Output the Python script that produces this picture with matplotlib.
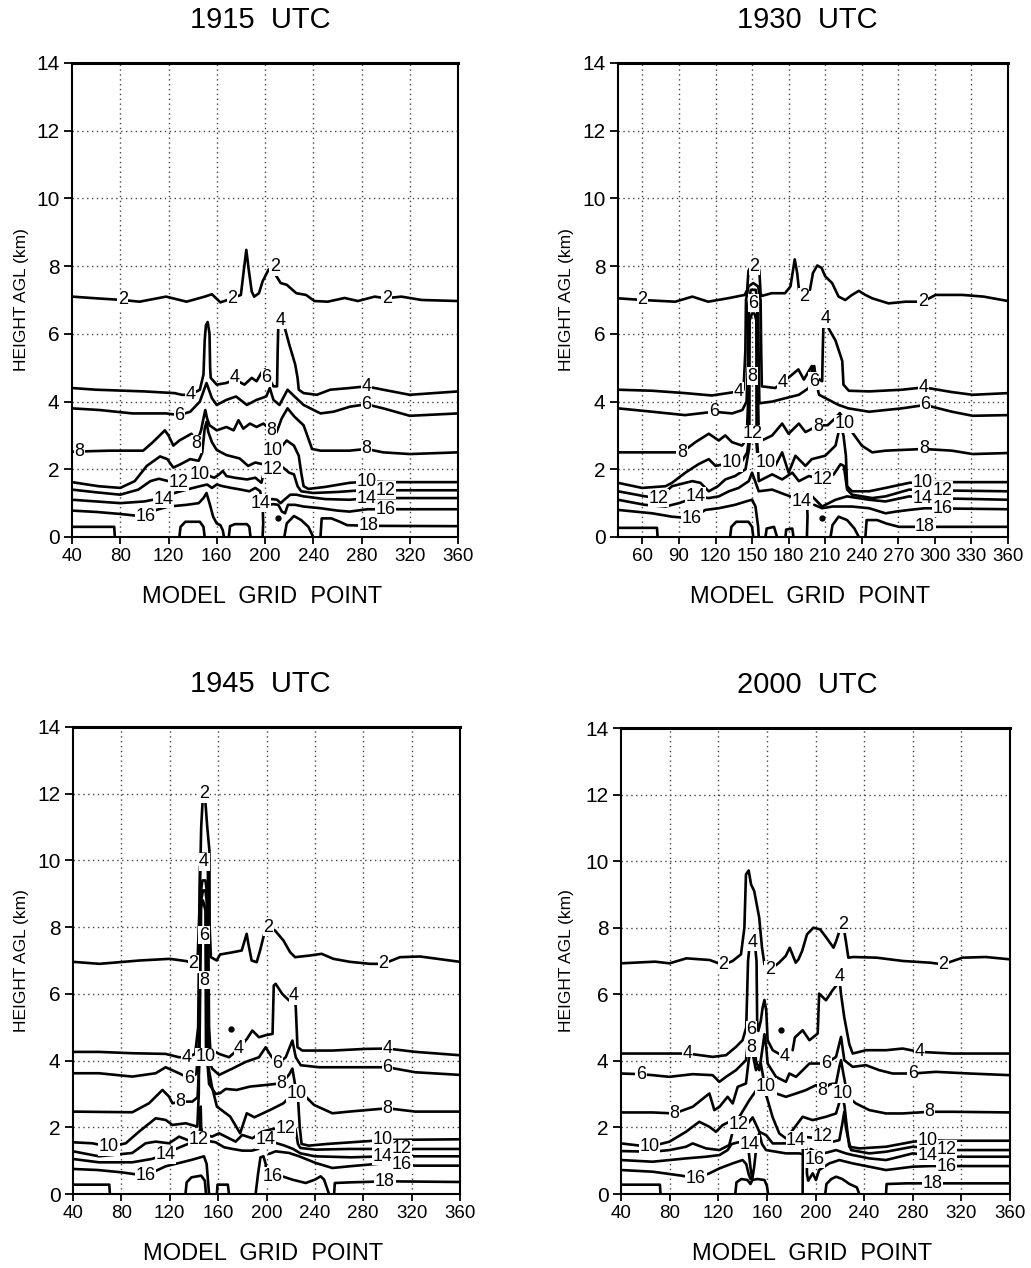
import matplotlib
matplotlib.use("Agg")
import matplotlib.pyplot as plt

plt.rcParams['font.family'] = ['Liberation Sans', 'DejaVu Sans']

# ---------------- 1915 UTC ----------------
c1915_2 = [(40,7.1),(60,7.05),(82,7.0),(96,6.95),(118,7.1),(135,6.95),(150,7.1),(156,7.17),(163,6.93),(173,7.05),
           (180,7.15),(182.5,7.9),(184.5,8.48),(186.5,7.9),(189,7.25),(191,7.1),(195,7.2),(198,7.55),(203,7.9),
           (206,7.92),(209,7.73),(213,7.5),(218,7.45),(226,7.2),(234,7.15),(241,6.97),(252,6.95),(266,7.06),
           (277,6.97),(291,7.1),(300,7.05),(313,7.1),(330,7.0),(360,6.97)]
c1915_4 = [(40,4.4),(60,4.35),(100,4.3),(125,4.25),(131,4.2),(138,4.2),(146,4.35),(149,4.8),(150,5.8),(151,6.25),
           (152.5,6.35),(154,6.0),(154.5,5.0),(155,4.7),(160,4.5),(168,4.55),(175,4.65),(183,4.5),(189,4.7),
           (193,4.6),(197,4.85),(200,4.95),(203,4.7),(207,4.45),(210,4.45),(210.5,5.5),(211,6.2),(213,6.35),
           (216.6,6.15),(220,5.7),(225,5.1),(227,4.7),(228,4.35),(232,4.25),(243,4.2),(254,4.35),(270,4.4),
           (284,4.45),(298,4.35),(320,4.2),(360,4.3)]
c1915_6 = [(40,3.8),(63,3.75),(90,3.65),(118,3.65),(129,3.6),(138,3.7),(146,4.0),(149,4.3),(151.5,4.55),(154,4.3),
           (156,4.1),(160,3.9),(168,4.05),(176,4.15),(185,3.9),(193,4.05),(201,4.15),(204,4.4),(207,4.05),(212,3.9),
           (218.7,4.35),(224.5,4.15),(232,3.9),(246,3.65),(256.7,3.7),(270.6,3.85),(284,3.92),(298,3.8),
           (320,3.58),(360,3.65)]
c1915_8 = [(40,2.52),(71,2.55),(99,2.55),(107,2.8),(117,3.15),(120,3.0),(124,2.7),(129,2.85),(139,3.05),(143,2.75),
           (147,3.15),(149,3.5),(150.5,3.75),(152,3.5),(154,3.3),(160,3.15),(168,3.25),(174,3.15),(178,3.45),
           (182,3.2),(187.5,3.35),(193,3.25),(198.6,3.35),(205.5,3.15),(209.7,3.1),(213.8,3.5),(218.7,3.8),
           (224.5,3.55),(232,3.3),(236,2.9),(239,2.6),(246,2.55),(270,2.55),(284,2.6),(298,2.5),(320,2.45),(360,2.5)]
c1915_10 = [(40,1.62),(62,1.5),(80,1.45),(92,1.65),(102,2.1),(113,2.38),(119,2.3),(124,2.05),(130,2.15),(138,2.3),
            (145,2.25),(148,2.5),(150,3.2),(151.5,3.4),(153,3.1),(156,2.8),(160,2.57),(168,2.42),(179,2.32),
            (186,2.1),(192,2.2),(198,2.15),(205,2.5),(212,2.6),(218,2.85),(224,2.7),(228,2.4),(230,1.9),(232,1.5),
            (236,1.42),(250,1.48),(270,1.6),(287,1.64),(300,1.62),(360,1.62)]
c1915_12 = [(40,1.4),(60,1.32),(80,1.25),(95,1.4),(105,1.65),(112,1.72),(120,1.65),(128,1.62),(136,1.7),(142,1.65),
            (148,1.9),(151,2.0),(154,1.8),(158,1.75),(162,1.85),(165,1.95),(168,1.8),(175,1.75),(185,1.7),(192,1.75),
            (197,1.6),(199,1.9),(205,1.95),(210,2.1),(215,2.05),(220,1.9),(224,1.85),(227,1.5),(230,1.35),(240,1.3),
            (260,1.33),(280,1.38),(300,1.38),(360,1.38)]
c1915_14a = [(40,1.1),(60,1.05),(80,1.0),(100,1.05),(110,1.12),(116,1.12),(125,1.3),(135,1.4),(146,1.5),(152,1.55),
             (156,1.45),(160,1.55),(165,1.5),(172,1.45),(180,1.4),(187,1.35),(192,1.45),(196,1.35),(198,1.0),
             (198.5,0.4),(198,0.0)]
c1915_14b = [(202,1.1),(206,1.12),(210,1.1),(213,1.0),(216,1.1),(221,1.25),(226,1.25),(232,1.2),(250,1.12),
             (270,1.1),(287,1.15),(360,1.15)]
c1915_16a = [(40,0.78),(60,0.74),(80,0.68),(101,0.6),(110,0.8),(120,0.9),(135,0.95),(145,1.0),(149,1.15),
             (151.5,1.3),(154,1.0),(157,0.6),(160,0.4),(163,0.35),(165,0.2),(166,0.0)]
c1915_16b = [(203,0.95),(207,0.97),(211,0.95),(214,0.75),(216.6,0.7),(219,0.95),(225,0.95),(232,0.9),(246,0.85),
             (260,0.78),(270,0.75),(285,0.82),(360,0.82)]
c1915_18a = [(40,0.3),(75,0.3),(75.5,0.0)]
c1915_18b = [(129,0.0),(130,0.3),(134,0.45),(146,0.45),(149,0.3),(150,0.0)]
c1915_18c = [(170,0.0),(171,0.32),(175,0.38),(185,0.38),(187,0.3),(188,0.0)]
c1915_18d = [(216,0.0),(218,0.4),(224,0.62),(230,0.5),(236,0.3),(240,0.0)]
c1915_18e = [(246,0.0),(247,0.55),(255,0.55),(262,0.45),(268,0.35),(285,0.33),(360,0.32)]
rot1915 = [(82,7.0,'2'),(173,7.05,'2'),(208,7.98,'2'),(301,7.05,'2'),
           (138,4.2,'4'),(175,4.7,'4'),(213,6.4,'4'),(284,4.45,'4'),
           (201,4.7,'6'),(129,3.6,'6'),(284,3.92,'6'),
           (46,2.52,'8'),(143,2.75,'8'),(205.5,3.15,'8'),(284,2.6,'8'),
           (146,1.85,'10'),(206,2.55,'10'),(284,1.64,'10'),
           (128,1.62,'12'),(206,2.0,'12'),(300,1.38,'12'),
           (116,1.12,'14'),(196,1.0,'14'),(284,1.15,'14'),
           (101,0.6,'16'),(300,0.82,'16'),(286,0.33,'18')]
pts1915 = [(210.7,0.55)]

# ---------------- 1930 UTC ----------------
c1930_2a = [(40,7.05),(60,7.0),(87,6.95),(101,7.1),(114,6.95),(130,7.05),(144,7.15),(146,7.3),(147,7.85),(149,8.0),
            (155,8.0),(156,7.85),(157,7.2),(158,7.12),(166,7.2),(177,7.2),(181.5,7.4),(185,8.2),(187,7.8),(188.5,7.3)]
c1930_2b = [(197.5,7.3),(200,7.8),(203.5,8.02),(207,7.95),(210,7.7),(215.7,7.5),(219,7.25),(221,7.1),(226.5,7.0),
            (232,7.15),(237.6,7.27),(243,7.15),(248.6,7.05),(262,6.9),(276,6.95),(290,6.95),(300.6,7.15),
            (322.5,7.15),(340,7.1),(360,6.97)]
c1930_4 = [(40,4.35),(68,4.32),(95,4.25),(117,4.18),(130,4.25),(139,4.3),(143,4.35),(144.5,5.5),(145,7.0),(147,7.4),
           (151,7.5),(155,7.4),(157,7.0),(157.5,5.5),(158,4.45),(169,4.4),(174.7,4.55),(183,4.8),(188,4.95),
           (192.5,4.65),(199,5.05),(203.4,4.7),(207.5,4.6),(208,5.5),(208.5,6.2),(210,6.45),(213,6.15),
           (218.5,5.8),(224,5.2),(225,4.5),(229.4,4.32),(246,4.3),(273,4.35),(291,4.42),(314,4.28),(331,4.2),
           (360,4.25)]
c1930_6 = [(40,3.8),(68,3.7),(95,3.6),(118.6,3.7),(133.6,3.65),(142,3.75),(145.5,4.0),(146.5,5.0),(147,6.9),
           (149,7.3),(153,7.3),(155,6.9),(155.5,5.0),(156,3.95),(166.5,4.0),(177.4,4.1),(188.4,4.2),(196.6,4.4),
           (199.5,5.0),(201,5.05),(203,4.5),(205,4.2),(210.3,4.1),(221,3.9),(229,3.8),(246,3.7),(259.5,3.75),
           (273,3.8),(292,3.9),(314,3.7),(331,3.58),(360,3.6)]
c1930_8 = [(40,2.5),(81.6,2.5),(92.5,2.5),(103.5,2.8),(114.5,3.05),(122.7,2.85),(128,3.0),(133.6,2.8),(141.8,2.7),
           (145.5,2.9),(146.8,4.0),(147.5,6.7),(149.5,7.0),(152.5,7.0),(154.3,6.7),(155,4.0),(155.5,3.0),
           (158,2.85),(166.5,3.0),(174.7,3.35),(180,3.05),(188.4,3.35),(193.8,3.1),(204.8,3.3),(212,3.3),
           (218,3.5),(222,3.66),(226,3.45),(232,3.1),(240,2.7),(248.6,2.5),(259.5,2.55),(291,2.6),(314,2.55),
           (331,2.45),(360,2.48)]
c1930_10 = [(40,1.6),(59.7,1.45),(79,1.5),(84.3,1.6),(95.3,1.9),(106,2.15),(114.5,2.3),(120,2.1),(133.6,2.2),
            (142,2.25),(146,2.5),(147.8,3.0),(148,6.4),(150,6.6),(152,6.6),(153.5,6.4),(153.7,3.0),(155,2.4),
            (161,2.2),(169,2.1),(174.7,2.5),(180,1.9),(185.6,2.4),(193.8,2.1),(199,2.3),(210,2.4),(218.5,2.7),
            (221,3.1),(222.6,3.3),(225,3.0),(227,2.4),(228,1.5),(232,1.35),(246,1.35),(259.5,1.45),(279,1.6),
            (294,1.62),(303,1.62),(360,1.62)]
c1930_12 = [(40,1.35),(62.4,1.2),(73.4,1.15),(84.3,1.5),(101,1.65),(107.6,1.6),(114.5,1.35),(122,1.5),(128,1.7),
            (136,1.8),(144.6,2.0),(147.5,2.6),(148.5,3.05),(151,3.2),(153,3.05),(154,2.6),(155.5,1.65),
            (166.5,1.85),(174.7,1.7),(183,1.9),(188.4,1.65),(196.6,1.8),(207.5,1.7),(217,1.85),(222.6,2.15),
            (225.3,2.1),(228,1.4),(232,1.25),(248.6,1.15),(259.5,1.2),(279,1.4),(294,1.38),(360,1.35)]
c1930_14a = [(40,1.1),(62,0.95),(79,0.9),(90,1.0),(98,1.1),(103.5,1.2),(114.5,1.15),(122.7,1.2),(131,1.35),
             (139,1.45),(147.3,1.65),(150,1.9),(152,1.7),(155.5,1.35),(166.5,1.4),(177.4,1.25),(185.6,1.15),
             (192,1.3),(195,1.2),(195.5,0.6),(195,0.0)]
c1930_14b = [(198,1.2),(199.3,1.2),(207.5,0.9),(218.5,1.1),(228,1.2),(246,1.1),(259.5,1.05),(279,1.2),(294,1.15),
             (360,1.1)]
c1930_16a = [(40,0.8),(68,0.7),(84.3,0.6),(100.8,0.55),(111.7,0.8),(122.7,0.85),(136,0.95),(145,1.05),(150,1.1),
             (152.8,0.9),(155,0.3),(155.5,0.0)]
c1930_16b = [(201,0.95),(207.5,0.85),(216,0.9),(232,0.9),(246,0.85),(259.5,0.7),(268,0.75),(279,0.8),(292,0.85),
             (360,0.82)]
c1930_18a = [(40,0.27),(72,0.27),(72.5,0.0)]
c1930_18b = [(132,0.0),(133,0.3),(137,0.45),(147,0.45),(150,0.3),(151,0.0)]
c1930_18c = [(161,0.0),(162,0.25),(168,0.3),(170.5,0.0)]
c1930_18d = [(177.4,0.0),(178,0.22),(183,0.25),(184,0.0)]
c1930_18e = [(214.4,0.0),(216,0.35),(221,0.6),(228,0.5),(234,0.25),(237.6,0.0)]
c1930_18f = [(243,0.0),(244,0.5),(252.7,0.5),(260,0.4),(270.5,0.3),(291,0.3),(360,0.3)]
rot1930 = [(60,7.0,'2'),(152,8.0,'2'),(192.5,7.1,'2'),(290,6.95,'2'),
           (139,4.3,'4'),(174.7,4.55,'4'),(210,6.45,'4'),(291,4.42,'4'),
           (151,6.9,'6'),(118.6,3.7,'6'),(200.7,4.6,'6'),(292,3.9,'6'),
           (92.5,2.5,'8'),(150.5,4.75,'8'),(204,3.25,'8'),(291,2.6,'8'),
           (133.6,2.2,'10'),(161,2.2,'10'),(226,3.35,'10'),(290,1.62,'10'),
           (73.4,1.15,'12'),(150.5,3.05,'12'),(207.5,1.7,'12'),(306,1.38,'12'),
           (103.5,1.2,'14'),(191,1.05,'14'),(290,1.15,'14'),
           (100.8,0.55,'16'),(306,0.85,'16'),(292,0.3,'18')]
pts1930 = [(207.5,0.55)]

# ---------------- 1945 UTC ----------------
c1945_2 = [(40,6.96),(62,6.9),(95,7.0),(120,7.05),(134,6.98),(139.5,6.9),(143,7.0),(144.5,8.5),(146,11.0),
           (147.5,12.0),(149,12.0),(151,11.0),(152.8,10.3),(153,8.0),(154,7.1),(158.8,7.0),(161.6,7.18),
           (172.6,7.25),(179.5,7.3),(183.6,7.8),(185,7.5),(187.7,7.0),(191.9,6.95),(194.7,7.3),(198.8,7.9),
           (201.6,8.0),(207,7.9),(214,7.6),(219.5,7.25),(223.6,7.1),(236,7.15),(245.6,7.2),(255.3,7.05),
           (269,6.96),(285.6,6.9),(296.6,6.9),(310.4,7.1),(327,7.12),(360,6.96)]
c1945_4 = [(40,4.26),(61.5,4.26),(89,4.22),(116.6,4.2),(127.7,4.1),(134.6,4.1),(141,4.2),(143.5,5.0),(145,9.8),
           (146.5,10.2),(150,10.2),(151.5,9.8),(152.5,5.0),(153.5,4.35),(160.8,4.2),(169,4.1),(177.3,4.36),
           (184,4.66),(188.3,4.9),(193.8,4.7),(199.3,4.76),(205,4.8),(206,6.25),(207.6,6.3),(213,6.0),
           (218.7,5.8),(222.8,5.95),(224.2,5.6),(225.6,4.4),(229.7,4.3),(254.5,4.3),(282,4.35),(300,4.36),
           (323.4,4.26),(360,4.16)]
c1945_6 = [(40,3.62),(61.5,3.62),(89,3.52),(108.4,3.62),(116.6,3.8),(127.7,3.62),(136,3.47),(142,3.6),(144,4.5),
           (145.5,9.0),(147,9.4),(149.5,9.4),(151,9.0),(152,4.5),(153,3.96),(155,3.76),(160.8,3.57),(171.8,3.76),
           (182.8,3.96),(193.8,4.1),(199.3,4.4),(203.5,4.15),(209,3.9),(215.9,4.1),(221.4,4.6),(224.2,4.1),
           (228.3,3.86),(243.5,3.8),(268.3,3.8),(300,3.8),(323,3.65),(360,3.57)]
c1945_8 = [(40,2.47),(89,2.45),(102.9,2.72),(114,3.12),(119.4,2.92),(122.2,2.72),(129,2.77),(138.7,2.77),(143,2.9),
           (144.5,4.0),(146,8.8),(147.5,9.1),(149.5,9.1),(150.5,8.8),(151,4.0),(152.5,3.3),(158,3.0),(161.5,3.02),
           (166.3,3.15),(175.3,3.12),(186.3,3.22),(200,3.27),(212.5,3.32),(218.7,3.58),(221.4,3.76),(224,3.2),
           (232.4,2.92),(239.3,2.67),(254.5,2.42),(268.3,2.47),(300,2.57),(323,2.47),(360,2.47)]
c1945_10 = [(40,1.55),(56,1.52),(69.8,1.42),(83.6,1.52),(94.6,1.87),(108.4,2.27),(116.6,2.22),(122.2,2.07),
            (133.2,2.12),(142.8,2.02),(144,3.0),(145,8.5),(147.5,8.8),(149.5,8.5),(150,4.0),(152,3.8),(155,3.2),
            (159,2.62),(170,2.32),(178.2,1.82),(183.7,2.42),(190,2.3),(203,2.52),(214,2.72),(222.3,3.02),
            (226,2.9),(227.5,2.0),(229,1.5),(235,1.45),(250,1.5),(270,1.55),(298,1.62),(360,1.64)]
c1945_12 = [(40,1.28),(61.5,1.13),(89,1.23),(100,1.52),(108.4,1.57),(119.4,1.52),(127.7,1.72),(136,1.6),
            (144.2,1.62),(145.2,2.0),(145.6,2.62),(146,2.0),(147,1.8),(155,1.72),(160.8,1.82),(169,1.67),
            (174.5,1.57),(180,1.77),(188.3,1.67),(196.6,1.87),(205,1.95),(215.9,1.97),(221.4,2.02),(224,1.95),
            (226,1.5),(228,1.38),(240.7,1.33),(268,1.35),(298,1.35),(360,1.35)]
c1945_14 = [(40,1.05),(61.5,0.95),(89,0.95),(105,1.05),(116.6,1.18),(125,1.35),(135,1.5),(142,1.55),(150,1.6),
            (158,1.55),(165,1.4),(172,1.35),(180,1.3),(188,1.3),(193,1.35),(199.3,1.62),(206,1.55),(215,1.45),
            (222,1.35),(228,1.22),(240,1.13),(270,1.1),(298,1.13),(360,1.13)]
c1945_16a = [(40,0.75),(60,0.72),(80,0.65),(100,0.55),(116.6,0.83),(130,0.95),(138.7,1.03),(148.3,1.13),
             (150.5,0.9),(152.5,0.0)]
c1945_16b = [(191,0.0),(193,0.6),(195,1.1),(197.5,1.13),(199.3,0.9),(199.5,0.6),(201,0.5),(205,0.53),(210,0.55),
             (213,0.53),(221.4,0.43),(232.4,0.33),(240,0.43),(244.8,0.53),(247.6,0.43),(251.7,0.0)]
c1945_16c = [(202,1.2),(207.6,1.28),(218.7,1.23),(227,1.13),(240.7,0.93),(254.5,0.78),(268.3,0.83),(300,0.93),
             (323,0.85),(360,0.85)]
c1945_18a = [(40,0.28),(70,0.28),(70.5,0.0)]
c1945_18b = [(133,0.0),(134,0.35),(138,0.5),(146,0.55),(149,0.4),(150,0.0)]
c1945_18c = [(159,0.0),(159.5,0.28),(168,0.28),(169,0.0)]
c1945_18d = [(255.9,0.0),(256.5,0.33),(270,0.35),(300,0.38),(360,0.36)]
rot1945 = [(139.5,6.9,'2'),(148.3,12.0,'2'),(201.6,8.0,'2'),(296.6,6.9,'2'),
           (134,4.1,'4'),(148.4,9.96,'4'),(177.3,4.36,'4'),(222.8,5.95,'4'),(300,4.36,'4'),
           (136,3.47,'6'),(148.4,7.76,'6'),(209,3.9,'6'),(300,3.8,'6'),
           (129,2.77,'8'),(148.4,6.41,'8'),(212.5,3.32,'8'),(300,2.57,'8'),
           (69.8,1.42,'10'),(149.5,4.12,'10'),(225,3.02,'10'),(296,1.62,'10'),
           (144.2,1.62,'12'),(215.9,1.97,'12'),(312,1.35,'12'),
           (116.6,1.18,'14'),(199.3,1.62,'14'),(296,1.13,'14'),
           (100,0.55,'16'),(205,0.53,'16'),(312,0.88,'16'),(298,0.38,'18')]
pts1945 = [(171,4.96)]

# ---------------- 2000 UTC ----------------
c2000_2 = [(40,6.93),(68,6.98),(80,6.93),(93.8,7.08),(113,7.03),(124,6.88),(131.8,7.0),(138.7,7.2),(141.5,8.0),
           (142.8,9.6),(145,9.72),(147,9.3),(149.6,9.1),(153.7,8.3),(156,7.4),(158,6.9),(162.6,6.73),(170,6.95),
           (175.5,7.15),(178.8,7.4),(181,7.2),(183.7,6.95),(186,7.05),(189,7.3),(193,7.8),(198.3,8.0),
           (203.8,7.95),(209,7.7),(214.8,7.4),(217,7.6),(220.2,7.95),(223,8.05),(225,7.6),(227,7.1),(231,7.12),
           (250.3,7.1),(272,7.0),(294,6.95),(305,6.9),(321,7.1),(340,7.12),(360,7.05)]
c2000_4a = [(40,4.22),(66,4.22),(94.8,4.22),(115.4,4.12),(126.4,4.17),(134.6,4.42),(140,4.62),(143,5.0),
            (144.5,7.0),(146,7.55),(150,7.55),(151.5,7.0),(152,5.2),(153,4.9),(155,5.2),(156.5,5.6),(158,5.83),
            (159.5,5.5),(160.6,4.62),(164.8,4.32),(174.4,4.12),(178,4.2)]
c2000_4b = [(181.2,4.32),(183,4.7),(189.4,4.92),(195,4.62),(201.8,4.82),(203,6.02),(208.6,5.82),(214,6.12),
            (218,6.3),(219.6,6.52),(221,6.0),(223.7,5.3),(227.8,4.5),(230.6,4.22),(241.5,4.32),(258,4.32),
            (271.7,4.37),(285.4,4.27),(312.8,4.22),(360,4.22)]
c2000_6 = [(40,3.62),(56.5,3.6),(66,3.57),(79.8,3.52),(99,3.6),(115.4,3.57),(120.9,3.37),(126.4,3.52),(134.6,3.72),
           (142.8,4.02),(144.5,4.6),(146,5.0),(148.5,5.0),(149.5,4.6),(151,4.0),(153.8,3.72),(156.5,4.4),(158,4.8),
           (159.5,4.4),(160.6,3.92),(167.5,3.52),(175.7,3.37),(178.5,3.62),(184,3.52),(195,3.92),(208.6,3.92),
           (216.9,4.12),(219.5,4.5),(221,4.72),(223.7,4.02),(230.6,3.82),(241.5,3.87),(252.5,3.72),(263.5,3.62),
           (280,3.62),(299,3.67),(326.5,3.62),(360,3.57)]
c2000_8 = [(40,2.45),(66,2.45),(83.9,2.42),(99,2.62),(112.7,3.02),(116.8,2.52),(121,2.62),(127.7,2.92),(131.9,2.72),
           (136,3.22),(142.8,3.32),(145,4.0),(147,4.45),(149.5,4.0),(151,3.72),(155,3.92),(157.9,3.32),(160,3.1),
           (167.5,3.02),(175.7,2.92),(184,3.02),(192,3.12),(200.4,3.27),(205.9,3.12),(212,3.3),(216.9,3.32),
           (219.5,3.8),(221,4.02),(223,3.6),(226.5,2.92),(233.3,2.72),(244.3,2.52),(258,2.42),(271.7,2.42),
           (293.6,2.47),(312.8,2.47),(360,2.45)]
c2000_10 = [(40,1.52),(63.3,1.42),(79.8,1.57),(93.5,1.87),(104.4,2.17),(112.7,2.02),(118.1,1.87),(123.6,2.07),
            (131.9,2.22),(137.3,2.32),(142,2.6),(145.6,2.82),(151,3.1),(156.5,3.2),(160,2.9),(164.8,2.3),
            (170.2,1.82),(175.7,1.67),(181.2,1.92),(189.4,2.32),(197.7,2.22),(208.6,2.32),(216.9,2.42),(220,2.8),
            (222.3,3.0),(224,2.6),(225.5,2.1),(227.8,1.42),(236,1.37),(258,1.42),(280,1.57),(293.6,1.62),
            (307,1.6),(360,1.6)]
c2000_12 = [(40,1.29),(66,1.27),(80,1.32),(93.5,1.42),(99,1.52),(104,1.45),(110,1.37),(121,1.32),(129,1.47),
            (131.9,1.87),(140,1.97),(144,2.1),(148.3,2.3),(153.8,1.87),(159.3,1.77),(164.8,1.52),(175.7,1.52),
            (184,1.77),(190,1.72),(203,1.67),(214,1.57),(219.6,1.62),(222,2.1),(223.7,2.47),(225,2.0),
            (226.5,1.72),(229.2,1.32),(244.3,1.22),(258,1.27),(280,1.42),(293.6,1.38),(307.3,1.32),(360,1.32)]
c2000_14a = [(40,1.02),(66,0.97),(80,1.02),(93.5,1.07),(110,1.12),(121,1.17),(127.7,1.32),(131,1.5),(136,1.55),
             (142.8,1.57),(145,1.3),(146.5,0.8),(148,0.45),(149.5,0.8),(151,1.3),(152.5,1.7),(153.8,1.82),
             (156,1.5),(159.3,1.32),(167.5,1.27),(175.7,1.22),(186.7,1.22),(189,1.2)]
c2000_14b = [(196,1.35),(203,1.2),(210,1.25),(216.9,1.32),(225,1.22),(230.6,1.17),(244.3,1.07),(258,1.02),
             (280,1.22),(293.6,1.17),(307.3,1.12),(360,1.12)]
c2000_16a = [(40,0.72),(66,0.67),(90,0.55),(101.7,0.47),(112.7,0.62),(121,0.77),(131.9,0.92),(140,1.02),
             (143,0.9),(145,0.6),(146.5,0.45)]
c2000_16b = [(189.4,0.0),(189.6,1.4),(191,1.6),(192.7,1.3),(193,0.6),(194,0.4),(197.7,0.62),(200.4,0.42),
             (203,0.72),(211.4,0.92),(219.6,1.02),(230.6,0.92),(244.3,0.82),(258,0.72),(280,0.82),(295,0.84),
             (360,0.84)]
c2000_18a = [(40,0.28),(72,0.28),(72.5,0.0)]
c2000_18b = [(134,0.0),(135,0.35),(139,0.45),(144,0.42),(146.5,0.3),(148,0.42),(152,0.45),(158,0.42),(160,0.25),
             (161,0.0)]
c2000_18c = [(208,0.0),(209,0.3),(213,0.45),(217,0.52),(222,0.45),(228,0.3),(234,0.2),(236,0.0)]
c2000_18d = [(258,0.0),(258.5,0.3),(275,0.32),(296,0.32),(360,0.32)]
rot2000 = [(124,6.88,'2'),(162.6,6.73,'2'),(223,8.1,'2'),(305,6.9,'2'),
           (94.8,4.22,'4'),(148,7.57,'4'),(174.4,4.12,'4'),(219.6,6.52,'4'),(285.4,4.27,'4'),
           (56.5,3.6,'6'),(147.4,4.93,'6'),(208.6,3.92,'6'),(280,3.62,'6'),
           (83.9,2.42,'8'),(147,4.4,'8'),(205.9,3.12,'8'),(293.6,2.47,'8'),
           (63.3,1.42,'10'),(159.3,3.22,'10'),(222.3,3.02,'10'),(292,1.62,'10'),
           (137,2.08,'12'),(206,1.72,'12'),(308,1.34,'12'),
           (146,1.5,'14'),(184,1.62,'14'),(292,1.15,'14'),
           (101.7,0.47,'16'),(199,1.05,'16'),(308,0.84,'16'),(296,0.32,'18')]
pts2000 = [(171.6,4.92)]

linhas1915 = [c1915_2, c1915_4, c1915_6, c1915_8, c1915_10, c1915_12, c1915_14a, c1915_14b, c1915_16a,
              c1915_16b, c1915_18a, c1915_18b, c1915_18c, c1915_18d, c1915_18e]
linhas1930 = [c1930_2a, c1930_2b, c1930_4, c1930_6, c1930_8, c1930_10, c1930_12, c1930_14a, c1930_14b, c1930_16a,
              c1930_16b, c1930_18a, c1930_18b, c1930_18c, c1930_18d, c1930_18e, c1930_18f]
linhas1945 = [c1945_2, c1945_4, c1945_6, c1945_8, c1945_10, c1945_12, c1945_14, c1945_16a, c1945_16b, c1945_16c,
              c1945_18a, c1945_18b, c1945_18c, c1945_18d]
linhas2000 = [c2000_2, c2000_4a, c2000_4b, c2000_6, c2000_8, c2000_10, c2000_12, c2000_14a, c2000_14b, c2000_16a,
              c2000_16b, c2000_18a, c2000_18b, c2000_18c, c2000_18d]

xt_40 = [40, 80, 120, 160, 200, 240, 280, 320, 360]
xt_30 = [60, 90, 120, 150, 180, 210, 240, 270, 300, 330, 360]
yt = [0, 2, 4, 6, 8, 10, 12, 14]

W, H = 1031, 1268
fig = plt.figure(figsize=(W / 100, H / 100), dpi=100)


def painel(box, titulo, tpos, xticks, linhas, rotulos, pontos, ylab_x):
    x0, y0, x1, y1 = box   # caixa do eixo em pixels
    ax = fig.add_axes([x0 / W, 1 - y1 / H, (x1 - x0) / W, (y1 - y0) / H])
    ax.set_xlim(40, 360)
    ax.set_ylim(0, 14)
    for v in xticks:
        if 40 < v < 360:
            ax.axvline(v, color='#444444', lw=1.0, ls=(0, (1, 2.5)), zorder=1)
    for z in yt[1:-1]:
        ax.axhline(z, color='#444444', lw=1.0, ls=(0, (1, 2.5)), zorder=1)
    for pts in linhas:
        ax.plot([p[0] for p in pts], [p[1] for p in pts], color='black', lw=1.9,
                solid_joinstyle='round', solid_capstyle='round', zorder=3)
    for (x, z, t) in rotulos:
        ax.text(x, z, t, ha='center', va='center', fontsize=13, zorder=5,
                bbox=dict(boxstyle='square,pad=0.03', fc='white', ec='none'))
    for (x, z) in pontos:
        ax.plot([x], [z], 'o', ms=3.5, mfc='black', mec='black', zorder=4)
    ax.set_xticks(xticks)
    ax.set_yticks(yt)
    ax.tick_params(axis='y', direction='out', length=6, width=1.3, labelsize=15, pad=3)
    ax.tick_params(axis='x', direction='out', length=5, width=1.3, labelsize=13.5, pad=3)
    for s in ax.spines.values():
        s.set_linewidth(1.5)
    ax.spines['top'].set_linewidth(2.2)
    fig.text(tpos / W, 1 - (y0 - 43) / H, titulo, ha='center', va='center', fontsize=21)
    fig.text((x0 + x1) / 2 / W - 0.003, 1 - (y1 + 60) / H, 'MODEL  GRID  POINT', ha='center', va='center',
             fontsize=17)
    fig.text(ylab_x / W, 1 - (y0 + y1) / 2 / H, 'HEIGHT AGL (km)', rotation=90,
             ha='center', va='center', fontsize=12.5)
    return ax


painel((72, 63, 458, 537), '1915  UTC', 260, xt_40, linhas1915, rot1915, pts1915, 22)
painel((618, 63, 1008, 537), '1930  UTC', 807, xt_30, linhas1930, rot1930, pts1930, 566)
painel((73, 727, 460, 1194), '1945  UTC', 260, xt_40, linhas1945, rot1945, pts1945, 22)
painel((621, 728, 1010, 1194), '2000  UTC', 807, xt_40, linhas2000, rot2000, pts2000, 566)

fig.savefig('out.png', dpi=100)
